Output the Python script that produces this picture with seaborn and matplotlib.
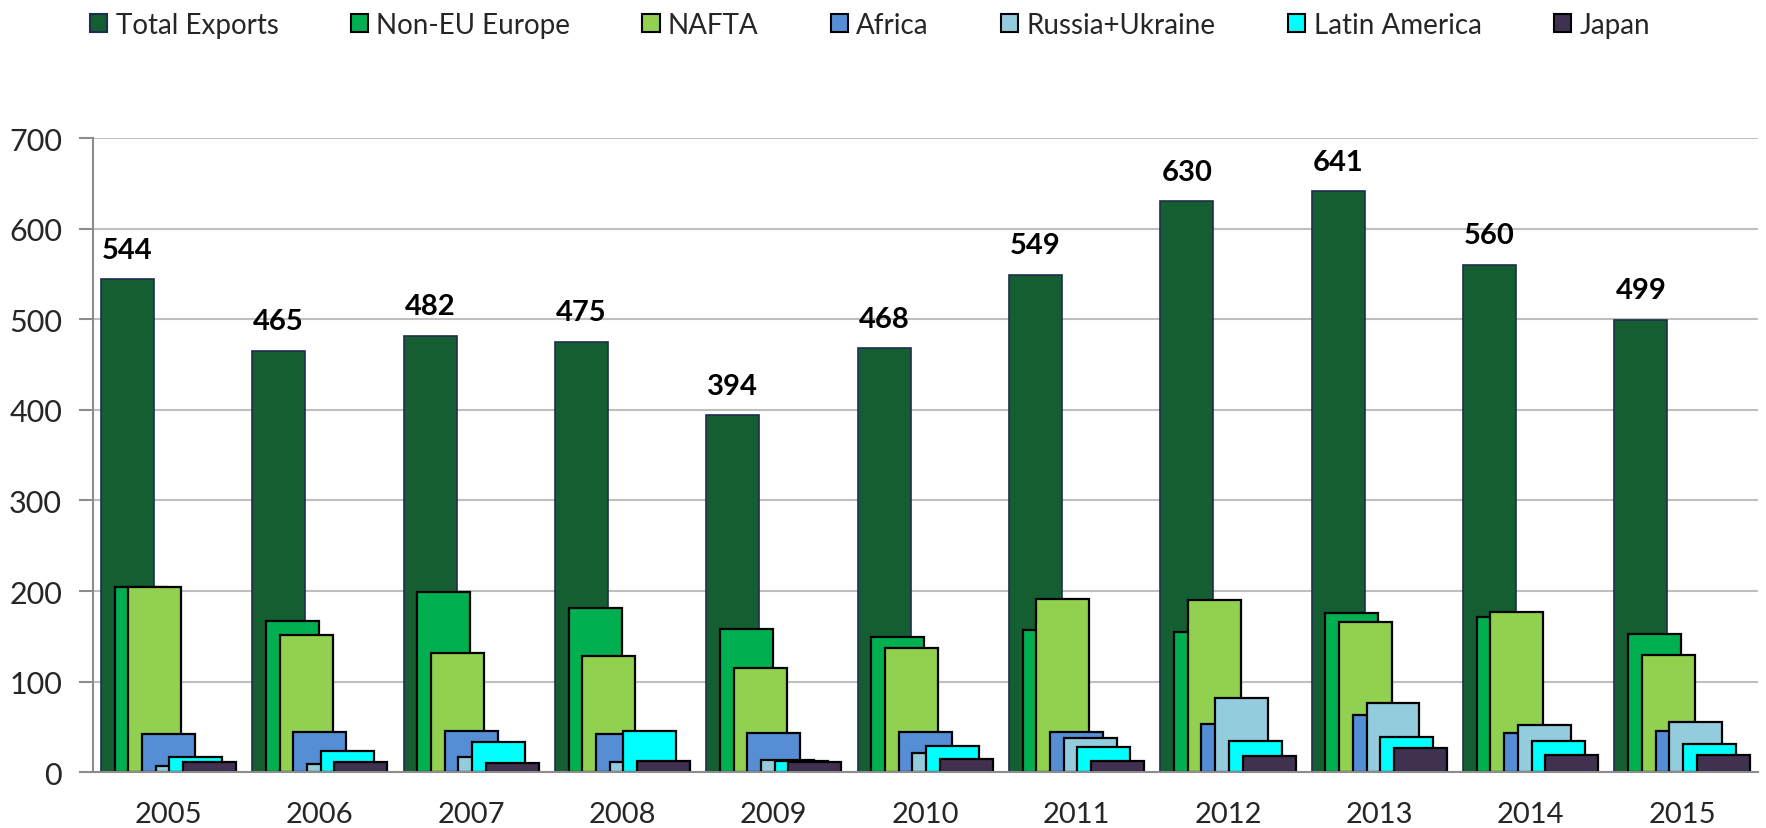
import numpy as np
import pandas as pd
import matplotlib
matplotlib.use("Agg")
import matplotlib.pyplot as plt
from matplotlib.patches import Patch
from matplotlib.ticker import MultipleLocator, FixedLocator
import seaborn as sns

# Exports by destination, per year
years = [2005, 2006, 2007, 2008, 2009, 2010, 2011, 2012, 2013, 2014, 2015]
series_names = ["Total Exports", "Non-EU Europe", "NAFTA", "Africa",
                "Russia+Ukraine", "Latin America", "Japan"]
total_exports = [544, 465, 482, 475, 394, 468, 549, 630, 641, 560, 499]
non_eu_europe = [204, 167, 199, 181, 158, 149, 157, 155, 176, 171, 153]
nafta = [205, 151, 132, 128, 115, 137, 191, 190, 166, 177, 129]
africa = [42, 45, 46, 42, 43, 45, 44, 53, 63, 43, 46]
russia_ukraine = [7, 9, 17, 11, 14, 21, 38, 82, 77, 52, 55]
latin_america = [17, 23, 33, 46, 12, 29, 28, 35, 39, 35, 31]
japan = [11, 11, 10, 12, 11, 15, 12, 18, 27, 19, 19]

series_values = [total_exports, non_eu_europe, nafta, africa,
                 russia_ukraine, latin_america, japan]
colors = ["#145E32", "#00B050", "#92D050", "#558ED5", "#93CDDD", "#00FFFF", "#403151"]
edges = ["#1F2D4F", "black", "black", "black", "black", "black", "black"]

sns.set_style("white")
plt.rcParams["font.family"] = ["Lato", "DejaVu Sans"]

fig = plt.figure(figsize=(17.66, 8.29), dpi=100)
ax = fig.add_axes([0.0525, 0.0672, 0.9428, 0.7651])

bar_width = 0.35
step = 0.0905
n = len(series_names)

# each destination is drawn as its own overlapping bar, shifted right within the year
for i, (name, vals) in enumerate(zip(series_names, series_values)):
    offset = (i - (n - 1) / 2) * step
    df = pd.DataFrame({"x": np.array(years, dtype=float) + offset, "value": vals})
    sns.barplot(data=df, x="x", y="value", native_scale=True, width=bar_width,
                color=colors[i], saturation=1, edgecolor=edges[i],
                linewidth=1.2 if i == 0 else 1.6, errorbar=None, ax=ax, zorder=2)
    if i == 0:
        ax.bar_label(ax.containers[0], labels=[str(v) for v in vals], padding=12,
                     fontsize=21, fontweight="bold", color="black")

ax.set_xlim(2004.5, 2015.5)
ax.set_ylim(0, 700)
ax.yaxis.set_major_locator(MultipleLocator(100))
ax.set_xticks(years)
ax.set_xticklabels([str(y) for y in years])
ax.xaxis.set_minor_locator(FixedLocator([y - 0.5 for y in years] + [years[-1] + 0.5]))
ax.set_xlabel("")
ax.set_ylabel("")

ax.grid(axis="y", color="#BFBFBF", linewidth=1.5, zorder=0)
ax.set_axisbelow(True)
for side in ["top", "right"]:
    ax.spines[side].set_visible(False)
for side in ["left", "bottom"]:
    ax.spines[side].set_color("#8C8C8C")
    ax.spines[side].set_linewidth(1.5)

ax.tick_params(axis="x", which="major", length=0, pad=21, labelsize=21)
ax.tick_params(axis="x", which="minor", length=10, width=1.5, color="#8C8C8C", direction="out")
ax.tick_params(axis="y", which="major", length=10, width=1.5, color="#8C8C8C",
               direction="out", pad=12, labelsize=22, left=True)

handles = [Patch(facecolor=c, edgecolor=e, linewidth=1.5) for c, e in zip(colors, edges)]
fig.legend(handles, series_names, loc="upper left", bbox_to_anchor=(0.0415, 1.005),
           ncol=n, frameon=False, fontsize=20, handlelength=0.62, handleheight=0.62,
           handletextpad=0.3, columnspacing=2.6, borderaxespad=0.2)

fig.savefig("out.png", dpi=100)
